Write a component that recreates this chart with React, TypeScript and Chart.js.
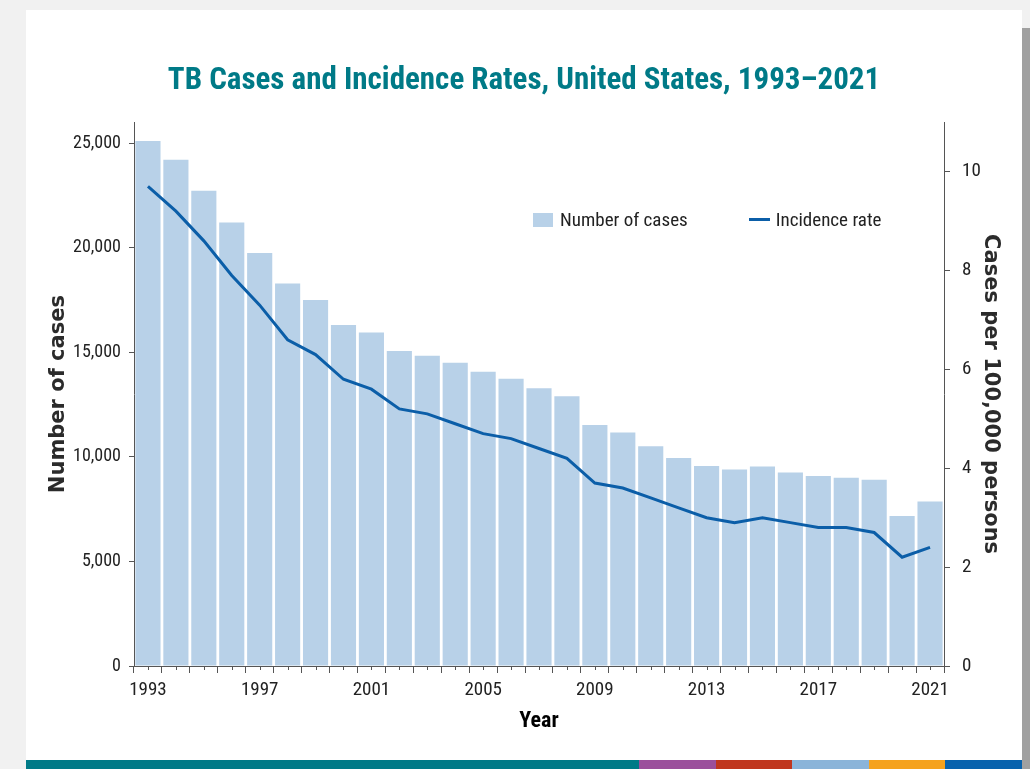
import React, { useEffect, useRef } from "react";
import { Chart, registerables } from "chart.js";

Chart.register(...registerables);

const years = [
  "1993", "1994", "1995", "1996", "1997", "1998", "1999", "2000", "2001", "2002",
  "2003", "2004", "2005", "2006", "2007", "2008", "2009", "2010", "2011", "2012",
  "2013", "2014", "2015", "2016", "2017", "2018", "2019", "2020", "2021",
];
const cases = [
  25102, 24206, 22727, 21210, 19751, 18287, 17501, 16308, 15945, 15055,
  14836, 14500, 14065, 13732, 13282, 12895, 11523, 11161, 10510, 9940,
  9561, 9398, 9539, 9252, 9088, 8996, 8900, 7170, 7860,
];
const rates = [
  9.7, 9.2, 8.6, 7.9, 7.3, 6.6, 6.3, 5.8, 5.6, 5.2,
  5.1, 4.9, 4.7, 4.6, 4.4, 4.2, 3.7, 3.6, 3.4, 3.2,
  3.0, 2.9, 3.0, 2.9, 2.8, 2.8, 2.7, 2.2, 2.4,
];
const xTickLabels = ["1993", "1997", "2001", "2005", "2009", "2013", "2017", "2021"];
const leftTicks = [0, 5000, 10000, 15000, 20000, 25000];
const rightTicks = [0, 2, 4, 6, 8, 10];

const TITLE = "TB Cases and Incidence Rates, United States, 1993\u20132021";
const NARROW = "'Liberation Sans Narrow', 'Roboto Condensed', 'DejaVu Sans Condensed', 'Liberation Sans', sans-serif";
const WIDE = "'DejaVu Sans', Verdana, sans-serif";
const AXIS = "#555555";
const TEXT = "#222222";
const BAR = "#b8d1e8";
const LINE = "#0b5ea8";
const TEAL = "#007a87";

const stripColors = ["#9b4f9c", "#c0361e", "#8ab4d9", "#f5a21e", "#0862ad"];

const minorTicks = {
  id: "minorTicks",
  afterDraw(chart: any) {
    const xs = chart.scales.x;
    const ctx = chart.ctx;
    ctx.save();
    ctx.strokeStyle = AXIS;
    ctx.lineWidth = 1;
    for (let i = 0; i < years.length; i++) {
      const px = Math.round(xs.getPixelForValue(i)) + 0.5;
      ctx.beginPath();
      ctx.moveTo(px, xs.top);
      ctx.lineTo(px, xs.top + 4);
      ctx.stroke();
    }
    ctx.restore();
  },
};

function TBChart() {
  const ref = useRef<HTMLCanvasElement | null>(null);
  useEffect(() => {
    if (!ref.current) return;
    const chart = new Chart(ref.current, {
      type: "bar",
      data: {
        labels: years,
        datasets: [
          {
            type: "line",
            label: "Incidence rate",
            data: rates,
            yAxisID: "y1",
            borderColor: LINE,
            backgroundColor: LINE,
            borderWidth: 3,
            pointRadius: 0,
            tension: 0,
            order: 1,
          } as any,
          {
            type: "bar",
            label: "Number of cases",
            data: cases,
            yAxisID: "y",
            backgroundColor: BAR,
            borderWidth: 0,
            barPercentage: 0.9,
            categoryPercentage: 1,
            order: 2,
          } as any,
        ],
      },
      options: {
        responsive: false,
        maintainAspectRatio: false,
        animation: false,
        layout: { padding: 0 },
        plugins: {
          legend: { display: false },
          tooltip: { enabled: false },
          title: {
            display: true,
            text: TITLE,
            color: TEAL,
            font: { family: NARROW, size: 31, weight: "bold", lineHeight: 1.2 },
            padding: { top: 53, bottom: 22 },
          },
        },
        scales: {
          x: {
            type: "category",
            offset: true,
            grid: {
              offset: true,
              drawOnChartArea: false,
              drawTicks: true,
              tickLength: 7,
              color: AXIS,
              lineWidth: 1,
            },
            border: { display: true, color: AXIS, width: 1 },
            ticks: {
              autoSkip: false,
              maxRotation: 0,
              minRotation: 0,
              padding: 6,
              color: TEXT,
              font: { family: NARROW, size: 19 },
              callback: (_v: any, i: number) => (xTickLabels.includes(years[i]) ? years[i] : ""),
            },
            title: {
              display: true,
              text: "Year",
              color: "#000000",
              font: { family: NARROW, size: 22, weight: "bold", lineHeight: 1.2 },
              padding: { top: 0, bottom: 25 },
            },
            afterFit: (s: any) => {
              s.height = 94;
            },
          },
          y: {
            type: "linear",
            position: "left",
            min: 0,
            max: 26000,
            afterBuildTicks: (s: any) => {
              s.ticks = leftTicks.map((v) => ({ value: v }));
            },
            grid: { drawOnChartArea: false, drawTicks: true, tickLength: 5, color: AXIS },
            border: { display: true, color: AXIS, width: 1 },
            ticks: {
              padding: 8,
              color: TEXT,
              font: { family: NARROW, size: 18 },
              callback: (v: any) => Number(v).toLocaleString("en-US"),
            },
            title: {
              display: true,
              text: "Number of cases",
              color: "#2b2b2b",
              font: { family: WIDE, size: 21, weight: "bold", lineHeight: 1.2 },
              padding: { top: 20, bottom: 0 },
            },
            afterFit: (s: any) => {
              s.width = 108;
            },
          },
          y1: {
            type: "linear",
            position: "right",
            min: 0,
            max: 11,
            afterBuildTicks: (s: any) => {
              s.ticks = rightTicks.map((v) => ({ value: v }));
            },
            grid: { drawOnChartArea: false, drawTicks: true, tickLength: 6, color: AXIS },
            border: { display: true, color: AXIS, width: 1 },
            ticks: {
              padding: 12,
              color: TEXT,
              font: { family: NARROW, size: 19 },
              callback: (v: any) => String(v),
            },
            title: {
              display: true,
              text: "Cases per 100,000 persons",
              color: "#2b2b2b",
              font: { family: WIDE, size: 21, weight: "bold", lineHeight: 1.2 },
              padding: { top: 19, bottom: 0 },
            },
            afterFit: (s: any) => {
              s.width = 78;
            },
          },
        },
      } as any,
      plugins: [minorTicks],
    });
    return () => chart.destroy();
  }, []);
  return <canvas ref={ref} width={996} height={750} style={{ position: "absolute", left: 0, top: 0, width: 996, height: 750 }} />;
}

export default function App() {
  return (
    <div
      style={{
        position: "fixed",
        left: 0,
        top: 0,
        width: 1030,
        height: 769,
        overflow: "hidden",
        background: "#f1f1f1",
      }}
    >
      <div style={{ position: "absolute", left: 1022, top: 28, width: 8, height: 741, background: "#a0a0a0" }} />
      <div style={{ position: "absolute", left: 26, top: 10, width: 996, height: 759, background: "#ffffff" }}>
        <TBChart />
        <div
          style={{
            position: "absolute",
            left: 507,
            top: 198,
            display: "flex",
            alignItems: "center",
            fontFamily: NARROW,
            fontSize: 19,
            color: TEXT,
            whiteSpace: "nowrap",
          }}
        >
          <span style={{ display: "inline-block", width: 20, height: 14, background: BAR, marginRight: 7 }} />
          <span style={{ marginRight: 61 }}>Number of cases</span>
          <span style={{ display: "inline-block", width: 21, height: 3, background: LINE, marginRight: 6 }} />
          <span>Incidence rate</span>
        </div>
        <div style={{ position: "absolute", left: 0, top: 750, width: 996, height: 9, display: "flex" }}>
          <div style={{ width: 613, background: TEAL }} />
          {stripColors.map((c) => (
            <div key={c} style={{ width: 76.6, background: c }} />
          ))}
        </div>
      </div>
    </div>
  );
}
